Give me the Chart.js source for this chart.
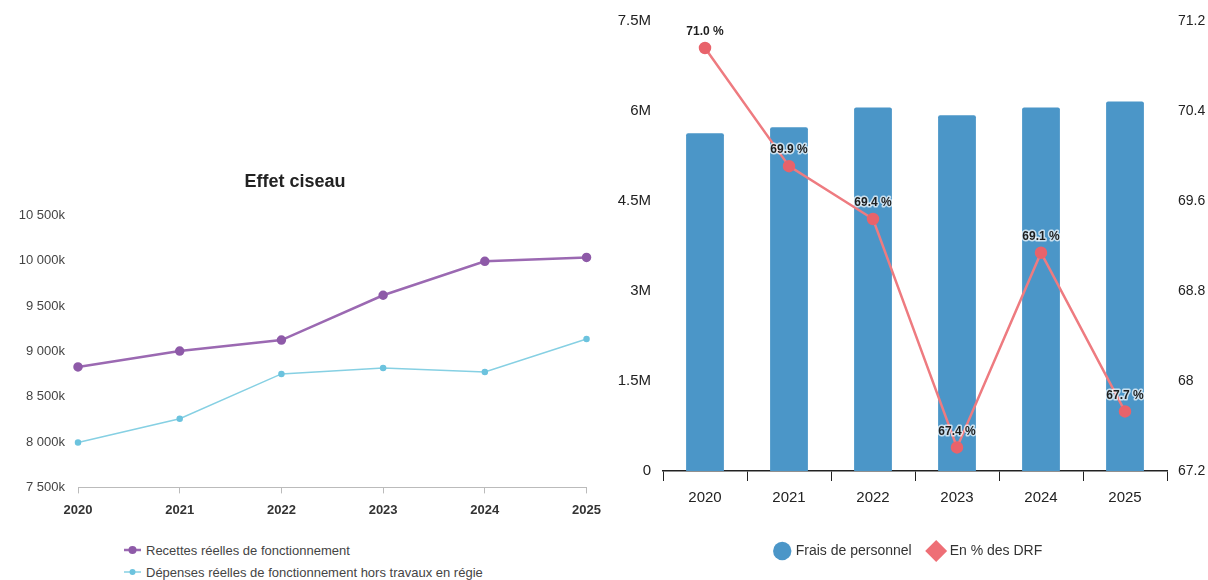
<!DOCTYPE html>
<html>
<head>
<meta charset="utf-8">
<script src="https://cdn.jsdelivr.net/npm/chart.js@4.4.1/dist/chart.umd.min.js"></script>
<style>
  body { margin: 0; background: #fff; width: 1208px; height: 580px; overflow: hidden; position: relative; font-family: "Liberation Sans", Arial, sans-serif; }
  #leftBox { position: absolute; left: 0; top: 0; width: 610px; height: 539px; }
  #rightBox { position: absolute; left: 610px; top: 0; width: 598px; height: 580px; }
  #leftLegend { position: absolute; left: 124px; top: 539px; font-size: 13px; color: #444; }
  #leftLegend .item { display: flex; align-items: center; height: 22px; }
  #leftLegend svg { margin-right: 5px; }
</style>
</head>
<body>
<div id="leftBox"><canvas id="ciseauChart"></canvas></div>
<div id="leftLegend">
  <div class="item"><svg width="17" height="10"><line x1="0" y1="5" x2="17" y2="5" stroke="#9b69b2" stroke-width="2.5"/><circle cx="8.5" cy="5" r="4" fill="#8e5aa8"/></svg>Recettes réelles de fonctionnement</div>
  <div class="item"><svg width="17" height="10"><line x1="0" y1="5" x2="17" y2="5" stroke="#86d0e3" stroke-width="1.5"/><circle cx="8.5" cy="5" r="3" fill="#6cc3de"/></svg>Dépenses réelles de fonctionnement hors travaux en régie</div>
</div>
<div id="rightBox"><canvas id="personnelChart"></canvas></div>

<script>
// ---- données ----
const years = ["2020", "2021", "2022", "2023", "2024", "2025"];

// Effet ciseau (en k€)
const recettes = [8830, 9005, 9126, 9621, 9995, 10038];
const depenses = [7995, 8258, 8753, 8819, 8775, 9137];
const ciseauTicks = [7500, 8000, 8500, 9000, 9500, 10000, 10500];

// Frais de personnel (€) et part dans les DRF (%)
const fraisPersonnel = [5630000, 5730000, 6060000, 5930000, 6060000, 6160000];
const partDRF = [70.96, 69.91, 69.44, 67.41, 69.14, 67.73];
const fraisTicks = [0, 1500000, 3000000, 4500000, 6000000, 7500000];
const drfTicks = [67.2, 68, 68.8, 69.6, 70.4, 71.2];

const ARIAL = '"Liberation Sans", Arial, sans-serif';

const fmtK = (v) => String(v).replace(/\B(?=(\d{3})+(?!\d))/g, " ") + "k";
const fmtM = (v) => v === 0 ? "0" : (v / 1e6) + "M";

const useTicks = (arr) => (scale) => { scale.ticks = arr.map(v => ({ value: v })); };

// ---- graphique de gauche : effet ciseau ----
new Chart(document.getElementById("ciseauChart"), {
  type: "line",
  data: {
    labels: years,
    datasets: [
      {
        label: "Recettes réelles de fonctionnement",
        data: recettes,
        borderColor: "#9b69b2",
        backgroundColor: "#8e5aa8",
        pointBackgroundColor: "#8e5aa8",
        pointBorderColor: "#8e5aa8",
        borderWidth: 2.5,
        pointRadius: 3.5,
        tension: 0
      },
      {
        label: "Dépenses réelles de fonctionnement hors travaux en régie",
        data: depenses,
        borderColor: "#86d0e3",
        backgroundColor: "#6cc3de",
        pointBackgroundColor: "#6cc3de",
        pointBorderColor: "#6cc3de",
        borderWidth: 1.5,
        pointRadius: 2.5,
        tension: 0
      }
    ]
  },
  options: {
    responsive: true,
    maintainAspectRatio: false,
    animation: false,
    layout: { padding: { top: 160, right: 20, bottom: 12, left: 0 } },
    plugins: {
      legend: { display: false },
      tooltip: { enabled: false },
      title: {
        display: true,
        text: "Effet ciseau",
        color: "#222",
        font: { family: ARIAL, size: 18, weight: "bold" },
        padding: { top: 11, bottom: 23 }
      }
    },
    scales: {
      x: {
        offset: false,
        grid: { display: true, drawOnChartArea: false, drawTicks: true, tickLength: 6, color: "#bbb" },
        border: { display: true, color: "#bbb", width: 1 },
        ticks: { color: "#333", padding: 9, font: { family: ARIAL, size: 13, weight: "bold" } }
      },
      y: {
        min: ciseauTicks[0],
        max: ciseauTicks[ciseauTicks.length - 1],
        afterBuildTicks: useTicks(ciseauTicks),
        afterFit: (s) => { s.width = 78; },
        grid: { display: false, drawTicks: false },
        border: { display: false },
        ticks: { color: "#444", padding: 13, callback: fmtK, font: { family: ARIAL, size: 13 } }
      }
    }
  }
});

// ---- graphique de droite : frais de personnel ----
const pointLabels = {
  id: "pointLabels",
  afterDatasetsDraw(chart) {
    const meta = chart.getDatasetMeta(1);
    const ctx = chart.ctx;
    ctx.save();
    ctx.font = "bold 12px " + ARIAL;
    ctx.textAlign = "center";
    ctx.textBaseline = "middle";
    ctx.lineJoin = "round";
    meta.data.forEach((pt, i) => {
      const txt = partDRF[i].toFixed(1) + " %";
      ctx.lineWidth = 3;
      ctx.strokeStyle = "rgba(255,255,255,0.7)";
      ctx.strokeText(txt, pt.x, pt.y - 16);
      ctx.fillStyle = "#1e1e1e";
      ctx.fillText(txt, pt.x, pt.y - 16);
    });
    ctx.restore();
  }
};

new Chart(document.getElementById("personnelChart"), {
  type: "bar",
  data: {
    labels: years,
    datasets: [
      {
        type: "bar",
        label: "Frais de personnel",
        data: fraisPersonnel,
        backgroundColor: "#4b96c8",
        borderWidth: 0,
        borderRadius: 2,
        borderSkipped: "bottom",
        yAxisID: "y",
        order: 1,
        categoryPercentage: 0.5,
        barPercentage: 0.9
      },
      {
        type: "line",
        label: "En % des DRF",
        data: partDRF,
        borderColor: "#ee7b80",
        backgroundColor: "#e8636b",
        pointBackgroundColor: "#e8636b",
        pointBorderColor: "#e8636b",
        borderWidth: 2.5,
        pointRadius: 5,
        tension: 0,
        yAxisID: "y1",
        order: 0
      }
    ]
  },
  options: {
    responsive: true,
    maintainAspectRatio: false,
    animation: false,
    layout: { padding: { top: 12, right: 0, bottom: 12, left: 0 } },
    plugins: {
      tooltip: { enabled: false },
      legend: {
        position: "bottom",
        labels: {
          usePointStyle: true,
          boxWidth: 13,
          boxHeight: 13,
          padding: 18,
          color: "#333",
          font: { family: ARIAL, size: 14 },
          sort: (a, b) => a.datasetIndex - b.datasetIndex,
          generateLabels(chart) {
            const items = Chart.defaults.plugins.legend.labels.generateLabels(chart);
            items.forEach(it => {
              if (it.datasetIndex === 0) { it.pointStyle = "circle"; it.fillStyle = "#4b96c8"; it.strokeStyle = "#4b96c8"; }
              else { it.pointStyle = "rectRot"; it.fillStyle = "#ee6f76"; it.strokeStyle = "#ee6f76"; }
            });
            return items;
          }
        }
      }
    },
    scales: {
      x: {
        offset: true,
        afterFit: (s) => { s.height = 55; },
        grid: { display: true, drawOnChartArea: false, drawTicks: true, tickLength: 10, color: "#222" },
        border: { display: true, color: "#222", width: 1.5 },
        ticks: { color: "#222", padding: 8, font: { family: ARIAL, size: 15 } }
      },
      y: {
        position: "left",
        min: fraisTicks[0],
        max: fraisTicks[fraisTicks.length - 1],
        afterBuildTicks: useTicks(fraisTicks),
        afterFit: (s) => { s.width = 53; },
        grid: { display: false, drawTicks: false },
        border: { display: false },
        ticks: { color: "#222", padding: 12, callback: fmtM, font: { family: ARIAL, size: 15 } }
      },
      y1: {
        position: "right",
        min: drfTicks[0],
        max: drfTicks[drfTicks.length - 1],
        afterBuildTicks: useTicks(drfTicks),
        afterFit: (s) => { s.width = 41; },
        grid: { display: false, drawTicks: false },
        border: { display: false },
        ticks: { color: "#222", padding: 11, callback: (v) => String(Number(v.toFixed(1))), font: { family: ARIAL, size: 14 } }
      }
    }
  },
  plugins: [pointLabels]
});
</script>
</body>
</html>
